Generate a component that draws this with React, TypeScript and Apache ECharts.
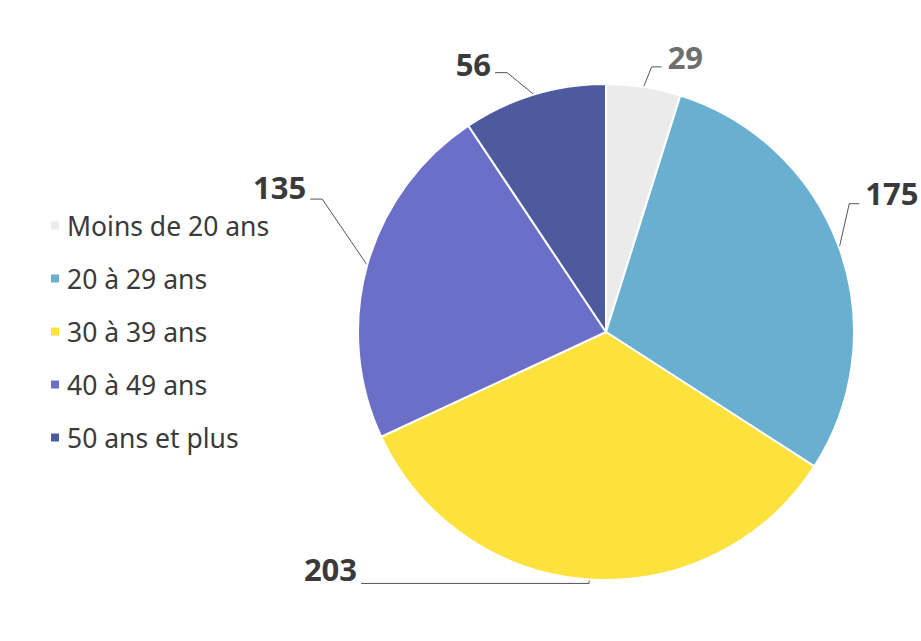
import React, { useEffect, useRef } from "react";
import * as echarts from "echarts";

const categories = ["Moins de 20 ans", "20 à 29 ans", "30 à 39 ans", "40 à 49 ans", "50 ans et plus"];
const values = [29, 175, 203, 135, 56];
const colors = ["#ebebeb", "#68afd0", "#fde13c", "#6c6fc7", "#4d5a9d"];
const labelColors = ["#6e6e6e", "#3a3a3a", "#3a3a3a", "#3a3a3a", "#3a3a3a"];

// label leader line geometry: elbow offset (ex, ey) from slice edge, horizontal run h, text y offset ty
const leader = [
  { ex: 8, ey: -20, h: 10, ty: -10 },
  { ex: 10, ey: -44, h: 10, ty: -11 },
  { ex: 0, ey: 4, h: -228, ty: -14 },
  { ex: -45, ey: -66, h: -12, ty: -12 },
  { ex: -27, ey: -22, h: -12, ty: -9 },
];

export default function App() {
  const ref = useRef<HTMLDivElement>(null);
  useEffect(() => {
    document.body.style.margin = "0";
    const chart = echarts.init(ref.current!, null, { renderer: "svg" });
    chart.setOption({
      animation: false,
      backgroundColor: "#ffffff",
      legend: {
        orient: "vertical",
        left: 44,
        top: 207,
        icon: "rect",
        itemWidth: 10,
        itemHeight: 10,
        itemGap: 26,
        textStyle: { fontSize: 26.5, color: "#3a3a3a", fontFamily: "Noto Sans", padding: [0, 0, 0, 2] },
        data: categories,
      },
      series: [
        {
          type: "pie",
          center: [606, 332],
          radius: 248,
          startAngle: 90,
          clockwise: true,
          itemStyle: { borderColor: "#ffffff", borderWidth: 2 },
          label: {
            show: true,
            formatter: "{c}",
            fontSize: 31,
            fontWeight: "bold",
            fontFamily: "Open Sans",
            overflow: "none",
          },
          labelLine: { show: true, lineStyle: { color: "#555555", width: 1 } },
          labelLayout: (params: any) => {
            const i = params.dataIndex;
            const pts = params.labelLinePoints;
            if (!pts) return {};
            const p0 = pts[0];
            const c = leader[i];
            const p1 = [p0[0] + c.ex, p0[1] + c.ey];
            const p2 = [p1[0] + c.h, p1[1]];
            const right = c.h > 0;
            return {
              x: p2[0] + (right ? 6 : -4),
              y: p2[1] + c.ty,
              align: right ? "left" : "right",
              verticalAlign: "middle",
              labelLinePoints: [p0, p1, p2],
            };
          },
          data: categories.map((name, i) => ({
            name,
            value: values[i],
            itemStyle: { color: colors[i] },
            label: { color: labelColors[i] },
          })),
        },
      ],
    });
    return () => chart.dispose();
  }, []);
  return <div ref={ref} style={{ width: 921, height: 641 }} />;
}
